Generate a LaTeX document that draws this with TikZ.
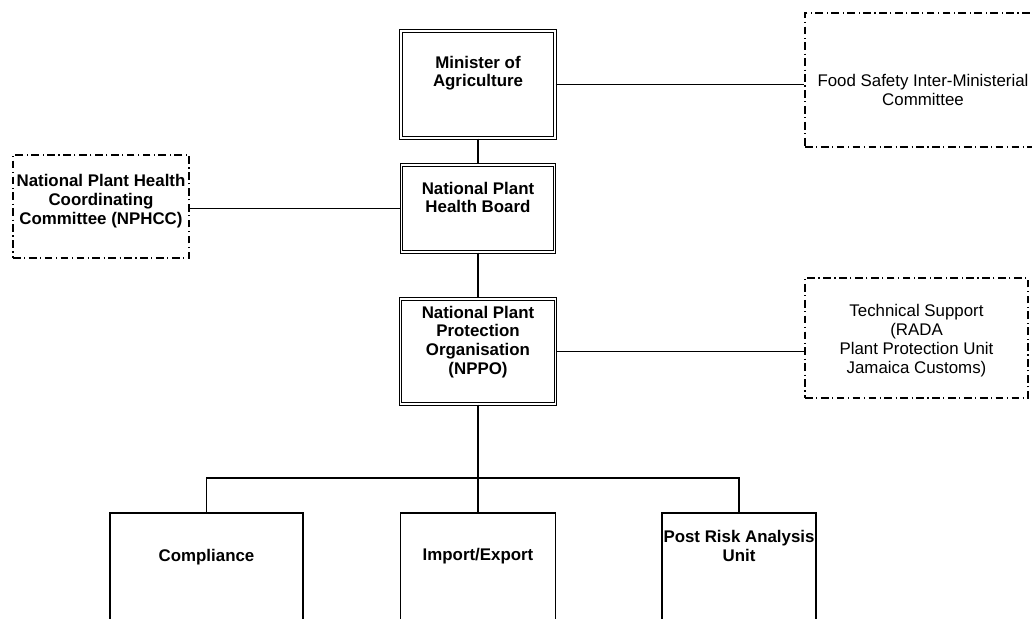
\documentclass[tikz,border=0pt]{standalone}
\usepackage{fontspec}
\setmainfont{Liberation Sans}
\usetikzlibrary{calc}

\begin{document}
\begin{tikzpicture}[x=0.025cm, y=-0.025cm,
    font=\fontsize{12}{13.5}\selectfont,
    plainbox/.style={draw, line width=0.8pt, inner sep=0pt},
    mainbox/.style={draw, double, double distance=1.3pt, line width=0.7pt, inner sep=0pt},
    sidebox/.style={draw, line width=0.8pt, dash pattern=on 5.5pt off 2.5pt on 0.8pt off 2.5pt, inner sep=0pt},
    txt/.style={anchor=north, align=center, inner sep=0pt, yshift=-#1*0.025cm},
    btxt/.style={txt=#1, font=\fontsize{12}{13.5}\selectfont\bfseries},
    link/.style={line width=0.8pt}]
    \useasboundingbox (0,0) rectangle (1032,618);
    \clip (0,0) rectangle (1032,618);

    % chain of command
    \node[mainbox, minimum width=3.85cm, minimum height=2.675cm,
          label={[btxt=25]north:{Minister of\\Agriculture}}] (minister) at (478,84.5) {};
    \node[mainbox, minimum width=3.825cm, minimum height=2.175cm,
          label={[btxt=17]north:{National Plant\\Health Board}}] (board) at (478,208.5) {};
    \node[mainbox, minimum width=3.875cm, minimum height=2.625cm,
          label={[btxt=7]north:{National Plant\\Protection\\Organisation\\(NPPO)}}] (nppo) at (478,351.5) {};

    % side committees
    \node[sidebox, minimum width=4.4cm, minimum height=2.575cm,
          label={[btxt=20]north:{National Plant Health\\Coordinating\\Committee (NPHCC)}}] (nphcc) at (101,206.5) {};
    \node[sidebox, minimum width=5.9cm, minimum height=3.35cm,
          label={[txt=62]north:{Food Safety Inter-Ministerial\\Committee}}] (foodsafety) at (923,80) {};
    \node[sidebox, minimum width=5.575cm, minimum height=3cm,
          label={[txt=27]north:{Technical Support\\(RADA\\Plant Protection Unit\\Jamaica Customs)}}] (techsupport) at (916.5,338) {};

    % units
    \node[plainbox, minimum width=4.825cm, minimum height=3.425cm,
          label={[btxt=37]north:Compliance}] (compliance) at (206.5,581.5) {};
    \node[plainbox, minimum width=3.875cm, minimum height=3.425cm,
          label={[btxt=36]north:Import/Export}] (impexp) at (478,581.5) {};
    \node[plainbox, minimum width=3.85cm, minimum height=3.425cm,
          label={[btxt=18]north:{Post Risk Analysis\\Unit}}] (pra) at (739,581.5) {};

    \draw[link] (minister) -- (board);
    \draw[link] (board) -- (nppo);
    \draw[link] (minister.east) -- (minister.east -| foodsafety.west);
    \draw[link] (board.west) -- (board.west -| nphcc.east);
    \draw[link] (nppo.east) -- (nppo.east -| techsupport.west);

    \coordinate (bus) at (478,478);
    \draw[link] (nppo.south) -- (bus) -- (impexp.north);
    \draw[link] (compliance.north) |- (bus) -| (pra.north);
\end{tikzpicture}
\end{document}
